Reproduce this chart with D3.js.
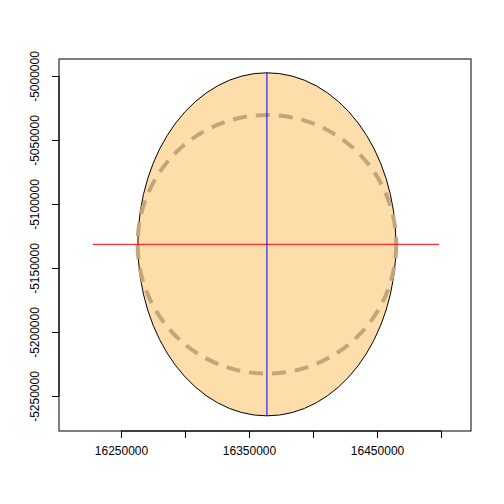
<!DOCTYPE html><html><head><script src="https://cdn.jsdelivr.net/npm/d3@7"></script>
<style>body{margin:0;background:#fff}</style></head><body><svg id="c" width="504" height="504"></svg>
<script>
const xTicks=[16250000,16300000,16350000,16400000,16450000,16500000];
const xLabels=["16250000","","16350000","","16450000",""];
const yTicks=[-5000000,-5050000,-5100000,-5150000,-5200000,-5250000];
const ellipseCenter=[16364000,-5131500];
const ellipseRadii=[100800,134000];
const circleRadius=101000;
const redLine=[[16228000,-5131500],[16498500,-5131500]];
const blueLine=[[16364000,-4997500],[16364000,-5265500]];

const svg=d3.select("#c");
const x=d3.scaleLinear().domain([16201600,16523400]).range([59,471]);
const y=d3.scaleLinear().domain([-5000000,-5250000]).range([76,396]);
const k=(x(1e5)-x(0));
svg.append("ellipse").attr("cx",x(ellipseCenter[0])).attr("cy",y(ellipseCenter[1]))
 .attr("rx",x(ellipseCenter[0]+ellipseRadii[0])-x(ellipseCenter[0]))
 .attr("ry",y(ellipseCenter[1]-ellipseRadii[1])-y(ellipseCenter[1]))
 .attr("fill","#fddeab").attr("stroke","#000").attr("stroke-width",1);
svg.append("circle").attr("cx",x(ellipseCenter[0])).attr("cy",y(ellipseCenter[1]))
 .attr("r",x(ellipseCenter[0]+circleRadius)-x(ellipseCenter[0]))
 .attr("fill","none").attr("stroke","#c4a47a").attr("stroke-width",4).attr("stroke-dasharray","14,9");
const line=d3.line().x(d=>x(d[0])).y(d=>y(d[1]));
svg.append("path").attr("d",line(redLine)).attr("stroke","#ff0000").attr("fill","none");
svg.append("path").attr("d",line(blueLine)).attr("stroke","#0000ff").attr("fill","none");
svg.append("rect").attr("x",59).attr("y",59).attr("width",412).attr("height",372).attr("fill","none").attr("stroke","#000");
const ax=svg.append("g").attr("transform","translate(0,431)").call(d3.axisBottom(x).tickValues(xTicks).tickFormat((d,i)=>xLabels[i]).tickSize(7).tickPadding(8));
const ay=svg.append("g").attr("transform","translate(59,0)").call(d3.axisLeft(y).tickValues(yTicks).tickFormat(d=>String(d)).tickSize(7).tickPadding(6));
[ax,ay].forEach(a=>{a.select(".domain").remove();a.selectAll("text").attr("font-family","Liberation Sans, Arial").attr("font-size",12).attr("fill","#000");});
ax.append("path").attr("d",`M${x(16250000)},0H${x(16500000)}`).attr("stroke","#000");
ay.append("path").attr("d",`M0,${y(-5000000)}V${y(-5250000)}`).attr("stroke","#000");
ay.selectAll(".tick text").attr("transform","rotate(-90)").attr("text-anchor","middle").attr("x",0).attr("y",-20).attr("dy","0");
</script></body></html>
